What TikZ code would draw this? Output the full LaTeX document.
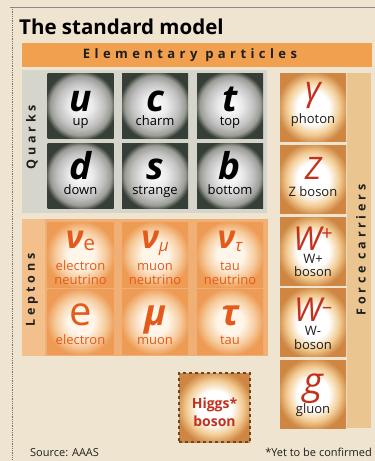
\documentclass[tikz,border=0pt]{standalone}
\usepackage{fontspec}
\setmainfont{Open Sans}
\newfontfamily\headfont[LetterSpace=34]{Open Sans}
\newfontfamily\stripfont[LetterSpace=30]{Open Sans}

\definecolor{paper}{HTML}{EFE4D0}
\definecolor{barorange}{HTML}{F0A04E}
\definecolor{quarkgrey}{HTML}{D5D5CC}
\definecolor{quarkdark}{HTML}{363E38}
\definecolor{quarkmid}{HTML}{9A9C94}
\definecolor{lepbg}{HTML}{F0AF74}
\definecolor{lepstrip}{HTML}{F3C08C}
\definecolor{lepouter}{HTML}{EE9C55}
\definecolor{lepmid}{HTML}{F6CB9E}
\definecolor{lepinner}{HTML}{FFF5E8}
\definecolor{forceouter}{HTML}{CE8642}
\definecolor{forcemid}{HTML}{F2CB92}
\definecolor{forcestrip}{HTML}{EBC590}
\definecolor{symred}{HTML}{C4301C}
\definecolor{leporange}{HTML}{E35A1A}
\definecolor{higgsline}{HTML}{6B4526}
\definecolor{inkdark}{HTML}{1E1E1E}

\pgfdeclareradialshading{quarkglow}{\pgfpointorigin}{color(0bp)=(white);
  color(9bp)=(white!92!black); color(18bp)=(black!25); color(23bp)=(quarkmid);
  color(27bp)=(quarkdark); color(50bp)=(quarkdark)}
\pgfdeclareradialshading{leptonglow}{\pgfpointorigin}{color(0bp)=(lepinner);
  color(10bp)=(lepinner); color(19bp)=(lepmid); color(26bp)=(lepouter);
  color(50bp)=(lepouter)}
\pgfdeclareradialshading{forceglow}{\pgfpointorigin}{color(0bp)=(white);
  color(12bp)=(white); color(20bp)=(forcemid); color(27bp)=(forceouter);
  color(50bp)=(forceouter)}

\begin{document}
\begin{tikzpicture}[x=1pt, y=-1pt,
    quarkbox/.style={minimum width=66pt, minimum height=65pt, inner sep=0pt, shading=quarkglow},
    leptonbox/.style={minimum width=66pt, minimum height=65pt, inner sep=0pt, shading=leptonglow},
    forcebox/.style={minimum width=66pt, minimum height=68pt, inner sep=0pt, shading=forceglow},
    bigsym/.style={anchor=base, inner sep=0pt, font=\fontsize{37}{37}\selectfont\bfseries\itshape},
    leptonsym/.style={anchor=base, inner sep=0pt, text=leporange, font=\fontsize{32}{32}\selectfont\bfseries\itshape},
    forcesym/.style={anchor=base, inner sep=0pt, text=symred, font=\fontsize{33}{33}\selectfont\itshape},
    namelabel/.style={anchor=base, inner sep=0pt, text=inkdark, font=\fontsize{13}{13}\selectfont},
    striplabel/.style={inner sep=0pt, text=inkdark, font=\stripfont\bfseries\fontsize{12.5}{14}\selectfont}]

    \useasboundingbox (0,0) rectangle (375,461);
    \fill[paper] (0,0) rectangle (375,461);
    \draw[black!45] (10,7) -- (375,7);
    \draw[black!55, densely dotted, line width=0.8pt] (12,7) -- (12,461);

    % Title and heading bar
    \node[anchor=base west, inner sep=0pt, font=\fontsize{20.5}{22}\selectfont\bfseries] (title) at (19,34) {The standard model};
    \fill[barorange] (22,43) rectangle (372,67);
    \node[inner sep=0pt, text=inkdark, font=\headfont\bfseries\fontsize{13}{14}\selectfont] (heading) at (190,55.5) {Elementary particles};

    % Quarks
    \fill[quarkgrey] (22,70) rectangle (267,213);
    \node[striplabel, rotate=90] (quarkslabel) at (32,137) {Quarks};
    \node[quarkbox] (up) at (80.5,105.5) {};
    \node[quarkbox] (charm) at (155,105.5) {};
    \node[quarkbox] (top) at (230,105.5) {};
    \node[quarkbox] (down) at (80.5,175.5) {};
    \node[quarkbox] (strange) at (155,175.5) {};
    \node[quarkbox] (bottom) at (230,175.5) {};
    \node[bigsym] (upsym) at ([yshift=-5.5pt]up.center) {u};
    \node[bigsym] (charmsym) at ([yshift=-5.5pt]charm.center) {c};
    \node[bigsym] (topsym) at ([yshift=-5.5pt]top.center) {t};
    \node[bigsym] (downsym) at ([yshift=-4pt]down.center) {d};
    \node[bigsym] (strangesym) at ([yshift=-4pt]strange.center) {s};
    \node[bigsym] (bottomsym) at ([yshift=-4pt]bottom.center) {b};
    \node[namelabel, text=black] (uplabel) at ([yshift=-20pt]up.center) {up};
    \node[namelabel, text=black] (charmlabel) at ([yshift=-20pt]charm.center) {charm};
    \node[namelabel, text=black] (toplabel) at ([yshift=-20pt]top.center) {top};
    \node[namelabel, text=black] (downlabel) at ([yshift=-18.5pt]down.center) {down};
    \node[namelabel, text=black] (strangelabel) at ([yshift=-18.5pt]strange.center) {strange};
    \node[namelabel, text=black] (bottomlabel) at ([yshift=-18.5pt]bottom.center) {bottom};

    % Leptons
    \fill[lepbg] (22,219) rectangle (268,356);
    \fill[lepstrip] (22,219) rectangle (45,356);
    \node[striplabel, rotate=90] (leptonslabel) at (32,290) {Leptons};
    \node[leptonbox] (enu) at (80.5,254.5) {};
    \node[leptonbox] (munu) at (155,254.5) {};
    \node[leptonbox] (taunu) at (230,254.5) {};
    \node[leptonbox] (electron) at (80.5,321.5) {};
    \node[leptonbox] (muon) at (155,321.5) {};
    \node[leptonbox] (tau) at (230,321.5) {};
    \node[leptonsym] (enusym) at ([yshift=6.5pt]enu.center) {ν\raisebox{-2pt}{\fontsize{21}{21}\selectfont\mdseries\upshape e}};
    \node[leptonsym] (munusym) at ([yshift=6.5pt]munu.center) {ν\raisebox{-3pt}{\fontsize{17}{17}\selectfont\mdseries μ}};
    \node[leptonsym] (taunusym) at ([yshift=6.5pt]taunu.center) {ν\raisebox{-3pt}{\fontsize{17}{17}\selectfont\mdseries τ}};
    \node[leptonsym, font=\fontsize{40}{40}\selectfont] (electronsym) at ([yshift=-4pt]electron.center) {e};
    \node[leptonsym, font=\fontsize{36}{36}\selectfont\bfseries\itshape] (muonsym) at ([yshift=-4pt]muon.center) {μ};
    \node[leptonsym, font=\fontsize{36}{36}\selectfont\bfseries\itshape] (tausym) at ([yshift=-4pt]tau.center) {τ};
    \node[namelabel, text=leporange] (enulabel) at ([yshift=-15.5pt]enu.center) {electron};
    \node[namelabel, text=leporange] (enulabeltwo) at ([yshift=-29.5pt]enu.center) {neutrino};
    \node[namelabel, text=leporange] (munulabel) at ([yshift=-15.5pt]munu.center) {muon};
    \node[namelabel, text=leporange] (munulabeltwo) at ([yshift=-29.5pt]munu.center) {neutrino};
    \node[namelabel, text=leporange] (taunulabel) at ([yshift=-15.5pt]taunu.center) {tau};
    \node[namelabel, text=leporange] (taunulabeltwo) at ([yshift=-29.5pt]taunu.center) {neutrino};
    \node[namelabel, text=leporange] (electronlabel) at ([yshift=-23pt]electron.center) {electron};
    \node[namelabel, text=leporange] (muonlabel) at ([yshift=-23pt]muon.center) {muon};
    \node[namelabel, text=leporange] (taulabel) at ([yshift=-23pt]tau.center) {tau};

    % Force carriers
    \fill[forcestrip] (347,73) rectangle (371,428);
    \node[striplabel, rotate=90] (forcelabel) at (361,250) {Force carriers};
    \node[forcebox] (photon) at (313,107.5) {};
    \node[forcebox] (zboson) at (313,179) {};
    \node[forcebox] (wplus) at (313,251) {};
    \node[forcebox] (wminus) at (313,322.5) {};
    \node[forcebox] (gluon) at (313,394) {};
    \node[forcesym, font=\fontsize{34}{34}\selectfont\itshape] (photonsym) at ([yshift=7pt]photon.center) {γ};
    \node[forcesym, font=\fontsize{31}{31}\selectfont\itshape] (zsym) at ([yshift=-0.5pt]zboson.center) {Z};
    \node[forcesym] (wplussym) at ([yshift=0.5pt]wplus.center) {W\raisebox{10pt}{\fontsize{20}{20}\selectfont\upshape +}};
    \node[forcesym] (wminussym) at ([yshift=1.5pt]wminus.center) {W\raisebox{8pt}{\fontsize{20}{20}\selectfont\upshape –}};
    \node[forcesym, font=\fontsize{38}{38}\selectfont\itshape] (gluonsym) at ([yshift=-0.5pt]gluon.center) {g};
    \node[namelabel] (photonlabel) at ([yshift=-16pt]photon.center) {photon};
    \node[namelabel] (zlabel) at ([yshift=-17.5pt]zboson.center) {Z boson};
    \node[namelabel] (wpluslabel) at ([yshift=-12pt]wplus.center) {W+};
    \node[namelabel] (wpluslabeltwo) at ([yshift=-25pt]wplus.center) {boson};
    \node[namelabel] (wminuslabel) at ([yshift=-13pt]wminus.center) {W-};
    \node[namelabel] (wminuslabeltwo) at ([yshift=-27pt]wminus.center) {boson};
    \node[namelabel] (gluonlabel) at ([yshift=-19.5pt]gluon.center) {gluon};

    % Higgs, not yet seen
    \node[forcebox, minimum width=71pt, minimum height=69pt, draw=higgsline, dashed, line width=1.2pt] (higgs) at (214.5,407.5) {};
    \node[namelabel, text=symred, font=\fontsize{14}{14}\selectfont\bfseries] (higgslabel) at ([yshift=-0.5pt]higgs.center) {Higgs*};
    \node[namelabel, text=symred, font=\fontsize{14}{14}\selectfont\bfseries] (higgslabeltwo) at ([yshift=-18.5pt]higgs.center) {boson};

    % Footnotes
    \node[anchor=base west, inner sep=0pt, text=inkdark, font=\fontsize{11}{12}\selectfont] (source) at (30,456) {Source: AAAS};
    \node[anchor=base east, inner sep=0pt, text=inkdark, font=\fontsize{11}{12}\selectfont] (footnote) at (372,456) {*Yet to be confirmed};
\end{tikzpicture}
\end{document}
